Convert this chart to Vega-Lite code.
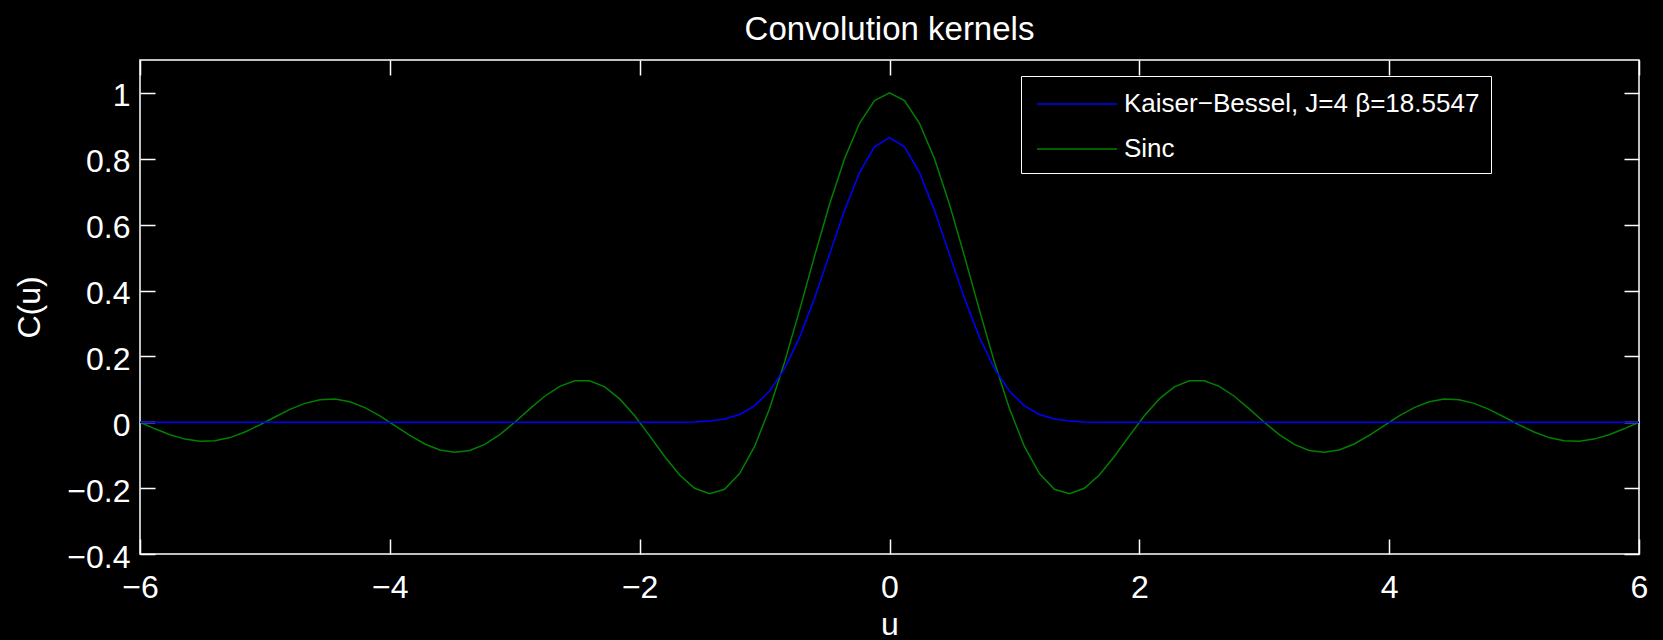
{
  "$schema": "https://vega.github.io/schema/vega-lite/v6.json",
  "width": 1499,
  "height": 494,
  "autosize": {"type": "none"},
  "padding": {"left": 140, "top": 60, "right": 24, "bottom": 86},
  "background": "black",
  "title": {"text": "Convolution kernels", "fontSize": 33, "font": "Liberation Sans", "fontWeight": "normal", "color": "white", "anchor": "middle", "baseline": "alphabetic", "offset": -14},
  "data": {"values": [
    {"u": -6, "kb": 0, "sinc": 0},
    {"u": -5.88, "kb": 0, "sinc": -0.0199},
    {"u": -5.76, "kb": 0, "sinc": -0.0378},
    {"u": -5.64, "kb": 0, "sinc": -0.0511},
    {"u": -5.52, "kb": 0, "sinc": -0.0576},
    {"u": -5.4, "kb": 0, "sinc": -0.0561},
    {"u": -5.28, "kb": 0, "sinc": -0.0465},
    {"u": -5.16, "kb": 0, "sinc": -0.0297},
    {"u": -5.04, "kb": 0, "sinc": -0.0079},
    {"u": -4.92, "kb": 0, "sinc": 0.0161},
    {"u": -4.8, "kb": 0, "sinc": 0.039},
    {"u": -4.68, "kb": 0, "sinc": 0.0574},
    {"u": -4.56, "kb": 0, "sinc": 0.0686},
    {"u": -4.44, "kb": 0, "sinc": 0.0704},
    {"u": -4.32, "kb": 0, "sinc": 0.0622},
    {"u": -4.2, "kb": 0, "sinc": 0.0445},
    {"u": -4.08, "kb": 0, "sinc": 0.0194},
    {"u": -3.96, "kb": 0, "sinc": -0.0101},
    {"u": -3.84, "kb": 0, "sinc": -0.0399},
    {"u": -3.72, "kb": 0, "sinc": -0.0659},
    {"u": -3.6, "kb": 0, "sinc": -0.0841},
    {"u": -3.48, "kb": 0, "sinc": -0.0913},
    {"u": -3.36, "kb": 0, "sinc": -0.0857},
    {"u": -3.24, "kb": 0, "sinc": -0.0673},
    {"u": -3.12, "kb": 0, "sinc": -0.0376},
    {"u": -3, "kb": 0, "sinc": 0},
    {"u": -2.88, "kb": 0, "sinc": 0.0407},
    {"u": -2.76, "kb": 0, "sinc": 0.079},
    {"u": -2.64, "kb": 0, "sinc": 0.1091},
    {"u": -2.52, "kb": 0, "sinc": 0.1261},
    {"u": -2.4, "kb": 0, "sinc": 0.1261},
    {"u": -2.28, "kb": 0, "sinc": 0.1076},
    {"u": -2.16, "kb": 0, "sinc": 0.071},
    {"u": -2.04, "kb": 0, "sinc": 0.0196},
    {"u": -1.92, "kb": 0, "sinc": -0.0412},
    {"u": -1.8, "kb": 0, "sinc": -0.1039},
    {"u": -1.68, "kb": 0.0002, "sinc": -0.16},
    {"u": -1.56, "kb": 0.0011, "sinc": -0.2004},
    {"u": -1.44, "kb": 0.0036, "sinc": -0.2171},
    {"u": -1.32, "kb": 0.0099, "sinc": -0.2036},
    {"u": -1.2, "kb": 0.0236, "sinc": -0.1559},
    {"u": -1.08, "kb": 0.0499, "sinc": -0.0733},
    {"u": -0.96, "kb": 0.0946, "sinc": 0.0416},
    {"u": -0.84, "kb": 0.1631, "sinc": 0.1826},
    {"u": -0.72, "kb": 0.2578, "sinc": 0.3406},
    {"u": -0.6, "kb": 0.3763, "sinc": 0.5046},
    {"u": -0.48, "kb": 0.5098, "sinc": 0.6618},
    {"u": -0.36, "kb": 0.6434, "sinc": 0.8001},
    {"u": -0.24, "kb": 0.7583, "sinc": 0.9079},
    {"u": -0.12, "kb": 0.8363, "sinc": 0.9765},
    {"u": 0, "kb": 0.864, "sinc": 1},
    {"u": 0.12, "kb": 0.8363, "sinc": 0.9765},
    {"u": 0.24, "kb": 0.7583, "sinc": 0.9079},
    {"u": 0.36, "kb": 0.6434, "sinc": 0.8001},
    {"u": 0.48, "kb": 0.5098, "sinc": 0.6618},
    {"u": 0.6, "kb": 0.3763, "sinc": 0.5046},
    {"u": 0.72, "kb": 0.2578, "sinc": 0.3406},
    {"u": 0.84, "kb": 0.1631, "sinc": 0.1826},
    {"u": 0.96, "kb": 0.0946, "sinc": 0.0416},
    {"u": 1.08, "kb": 0.0499, "sinc": -0.0733},
    {"u": 1.2, "kb": 0.0236, "sinc": -0.1559},
    {"u": 1.32, "kb": 0.0099, "sinc": -0.2036},
    {"u": 1.44, "kb": 0.0036, "sinc": -0.2171},
    {"u": 1.56, "kb": 0.0011, "sinc": -0.2004},
    {"u": 1.68, "kb": 0.0002, "sinc": -0.16},
    {"u": 1.8, "kb": 0, "sinc": -0.1039},
    {"u": 1.92, "kb": 0, "sinc": -0.0412},
    {"u": 2.04, "kb": 0, "sinc": 0.0196},
    {"u": 2.16, "kb": 0, "sinc": 0.071},
    {"u": 2.28, "kb": 0, "sinc": 0.1076},
    {"u": 2.4, "kb": 0, "sinc": 0.1261},
    {"u": 2.52, "kb": 0, "sinc": 0.1261},
    {"u": 2.64, "kb": 0, "sinc": 0.1091},
    {"u": 2.76, "kb": 0, "sinc": 0.079},
    {"u": 2.88, "kb": 0, "sinc": 0.0407},
    {"u": 3, "kb": 0, "sinc": 0},
    {"u": 3.12, "kb": 0, "sinc": -0.0376},
    {"u": 3.24, "kb": 0, "sinc": -0.0673},
    {"u": 3.36, "kb": 0, "sinc": -0.0857},
    {"u": 3.48, "kb": 0, "sinc": -0.0913},
    {"u": 3.6, "kb": 0, "sinc": -0.0841},
    {"u": 3.72, "kb": 0, "sinc": -0.0659},
    {"u": 3.84, "kb": 0, "sinc": -0.0399},
    {"u": 3.96, "kb": 0, "sinc": -0.0101},
    {"u": 4.08, "kb": 0, "sinc": 0.0194},
    {"u": 4.2, "kb": 0, "sinc": 0.0445},
    {"u": 4.32, "kb": 0, "sinc": 0.0622},
    {"u": 4.44, "kb": 0, "sinc": 0.0704},
    {"u": 4.56, "kb": 0, "sinc": 0.0686},
    {"u": 4.68, "kb": 0, "sinc": 0.0574},
    {"u": 4.8, "kb": 0, "sinc": 0.039},
    {"u": 4.92, "kb": 0, "sinc": 0.0161},
    {"u": 5.04, "kb": 0, "sinc": -0.0079},
    {"u": 5.16, "kb": 0, "sinc": -0.0297},
    {"u": 5.28, "kb": 0, "sinc": -0.0465},
    {"u": 5.4, "kb": 0, "sinc": -0.0561},
    {"u": 5.52, "kb": 0, "sinc": -0.0576},
    {"u": 5.64, "kb": 0, "sinc": -0.0511},
    {"u": 5.76, "kb": 0, "sinc": -0.0378},
    {"u": 5.88, "kb": 0, "sinc": -0.0199},
    {"u": 6, "kb": 0, "sinc": 0}
  ]},
  "transform": [{"fold": ["kb", "sinc"], "as": ["series", "C"]}],
  "encoding": {
    "stroke": {
      "field": "series", "type": "nominal",
      "scale": {"domain": ["kb", "sinc"], "range": ["#0000ff", "#008000"]},
      "legend": {
        "title": null, "orient": "none", "legendX": 881, "legendY": 16,
        "symbolType": "M-2.5,0H2.5", "symbolSize": 1024, "symbolStrokeWidth": 1.5,
        "symbolOffset": 28, "labelOffset": 30, "labelFontSize": 26, "labelFont": "Liberation Sans",
        "labelColor": "white", "labelLimit": 1000, "rowPadding": 15, "padding": 11,
        "fillColor": "black", "strokeColor": "white",
        "labelExpr": "datum.label == 'kb' ? 'Kaiser−Bessel, J=4 β=18.5547' : 'Sinc'"
      }
    }
  },
  "layer": [
    {
      "transform": [{"filter": "datum.series == 'sinc'"}],
      "mark": {"type": "line", "strokeWidth": 1.5},
      "encoding": {
        "x": {"field": "u", "type": "quantitative", "scale": {"domain": [-6, 6], "nice": false, "zero": false},
          "axis": {"orient": "bottom", "values": [-6, -4, -2, 0, 2, 4, 6], "format": "~g", "tickSize": -15,
            "labelPadding": 58, "labelBaseline": "alphabetic", "labelFlush": false, "labelOverlap": false, "labelBound": false,
            "title": "u", "titleX": 749.5, "titleY": 80, "titleBaseline": "alphabetic", "titleAlign": "center"}},
        "y": {"field": "C", "type": "quantitative", "scale": {"domain": [-0.4, 1.1], "nice": false, "zero": false},
          "axis": {"orient": "left", "values": [-0.4, -0.2, 0, 0.2, 0.4, 0.6, 0.8, 1], "format": "~g", "tickSize": -15,
            "labelPadding": 25, "labelOffset": 3, "labelFlush": false, "labelOverlap": false, "labelBound": false,
            "title": "C(u)", "titleX": -101, "titleY": 247, "titleAngle": 270, "titleBaseline": "alphabetic", "titleAlign": "center"}}
      }
    },
    {
      "transform": [{"filter": "datum.series == 'kb'"}],
      "mark": {"type": "line", "strokeWidth": 1.5},
      "encoding": {
        "x": {"field": "u", "type": "quantitative", "scale": {"domain": [-6, 6], "nice": false, "zero": false},
          "axis": {"orient": "top", "values": [-6, -4, -2, 0, 2, 4, 6], "labels": false, "tickSize": -15, "title": null}},
        "y": {"field": "C", "type": "quantitative", "scale": {"domain": [-0.4, 1.1], "nice": false, "zero": false},
          "axis": {"orient": "right", "values": [-0.4, -0.2, 0, 0.2, 0.4, 0.6, 0.8, 1], "labels": false, "tickSize": -15, "title": null}}
      }
    }
  ],
  "resolve": {"axis": {"x": "independent", "y": "independent"}},
  "config": {
    "view": {"stroke": "white", "strokeWidth": 1.5},
    "axis": {
      "domain": false, "grid": false, "ticks": true, "tickColor": "white", "tickWidth": 1.5,
      "labelColor": "white", "labelFont": "Liberation Sans", "labelFontSize": 32,
      "titleColor": "white", "titleFont": "Liberation Sans", "titleFontSize": 32, "titleFontWeight": "normal"
    },
    "legend": {"cornerRadius": 0}
  }
}
